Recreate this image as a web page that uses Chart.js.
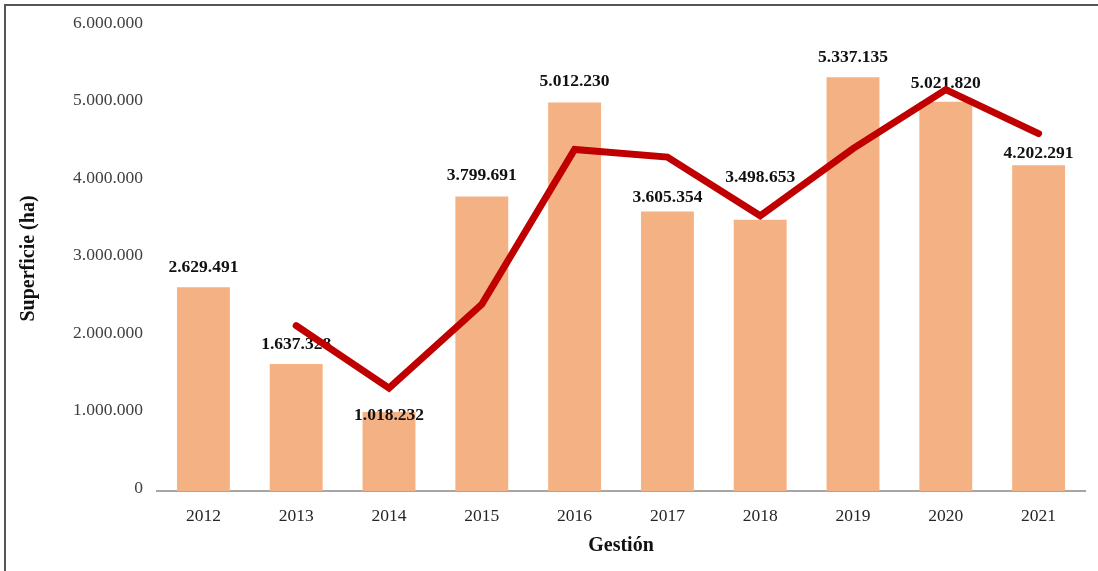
<!DOCTYPE html>
<html lang="es">
<head>
  <meta charset="UTF-8">
  <title>Superficie (ha) por gestión</title>
  <script src="https://cdn.jsdelivr.net/npm/chart.js"></script>
  <style>
    body { margin: 0; background: #fff; }
    #wrap { width: 1098px; height: 571px; position: relative; }
  </style>
</head>
<body>
<div id="wrap">
  <canvas id="grafico"></canvas>
</div>

<script>
  // datos
  const gestiones = ['2012', '2013', '2014', '2015', '2016', '2017', '2018', '2019', '2020', '2021'];
  const superficie = [2629491, 1637328, 1018232, 3799691, 5012230, 3605354, 3498653, 5337135, 5021820, 4202291];
  const tendencia = [null, 2133000, 1328000, 2409000, 4406000, 4309000, 3552000, 4418000, 5179000, 4612000];
  const ejeY = [0, 1000000, 2000000, 3000000, 4000000, 5000000, 6000000];

  // separacion (px) de cada etiqueta sobre su barra, como quedo en el original
  const desfaseEtiqueta = [20, 20, -3, 21, 21, 14, 42, 20, 18, 12];

  const serif = '"Liberation Serif", "Times New Roman", serif';

  function puntos(n) {
    return String(n).replace(/\B(?=(\d{3})+(?!\d))/g, '.');
  }

  // marco (solo arriba e izquierda, como en la imagen)
  const marco = {
    id: 'marco',
    beforeDraw(chart) {
      const c = chart.ctx;
      c.save();
      c.strokeStyle = '#555';
      c.lineWidth = 2;
      c.beginPath();
      c.moveTo(1098, 5);
      c.lineTo(5, 5);
      c.lineTo(5, 571);
      c.stroke();
      c.restore();
    }
  };

  // etiquetas de las barras, dibujadas antes de la linea
  const etiquetas = {
    id: 'etiquetas',
    afterDatasetDraw(chart, args) {
      if (args.index !== 0) return;
      const c = chart.ctx;
      c.save();
      c.font = 'bold 17.5px ' + serif;
      c.fillStyle = '#111';
      c.textAlign = 'center';
      c.textBaseline = 'middle';
      args.meta.data.forEach((bar, i) => {
        c.fillText(puntos(superficie[i]), bar.x, bar.y - desfaseEtiqueta[i]);
      });
      c.restore();
    }
  };

  const ctx = document.getElementById('grafico').getContext('2d');

  new Chart(ctx, {
    type: 'bar',
    data: {
      labels: gestiones,
      datasets: [{
        type: 'bar',
        data: superficie,
        backgroundColor: '#F4B183',
        barPercentage: 0.57,
        categoryPercentage: 1,
        order: 1
      }, {
        type: 'line',
        data: tendencia,
        borderColor: '#C00000',
        borderWidth: 7,
        borderCapStyle: 'round',
        borderJoinStyle: 'miter',
        pointRadius: 0,
        fill: false,
        tension: 0,
        order: 0
      }]
    },
    options: {
      responsive: true,
      maintainAspectRatio: false,
      animation: false,
      layout: { padding: { top: 26, right: 13, left: 0, bottom: 0 } },
      plugins: {
        legend: { display: false },
        tooltip: { enabled: false }
      },
      scales: {
        x: {
          grid: { display: false, drawTicks: false },
          border: { display: true, color: '#a6a6a6', width: 2 },
          ticks: {
            color: '#262626',
            padding: 15,
            font: { family: serif, size: 17.5 }
          },
          title: {
            display: true,
            text: 'Gestión',
            color: '#111',
            padding: { top: 0, bottom: 13 },
            font: { family: serif, size: 20, weight: 'bold' }
          },
          afterFit: s => { s.height = 80; }
        },
        y: {
          min: 0,
          max: 6000000,
          grid: { display: false, drawTicks: false },
          border: { display: false },
          afterBuildTicks: s => { s.ticks = ejeY.map(v => ({ value: v })); },
          ticks: {
            color: '#404040',
            padding: 14,
            labelOffset: -3,
            font: { family: serif, size: 17.5 },
            callback: v => puntos(v)
          },
          title: {
            display: true,
            text: 'Superficie (ha)',
            color: '#111',
            padding: { top: 17, bottom: 0 },
            font: { family: serif, size: 20, weight: 'bold' }
          },
          afterFit: s => { s.width = 157; }
        }
      }
    },
    plugins: [marco, etiquetas]
  });
</script>
</body>
</html>
